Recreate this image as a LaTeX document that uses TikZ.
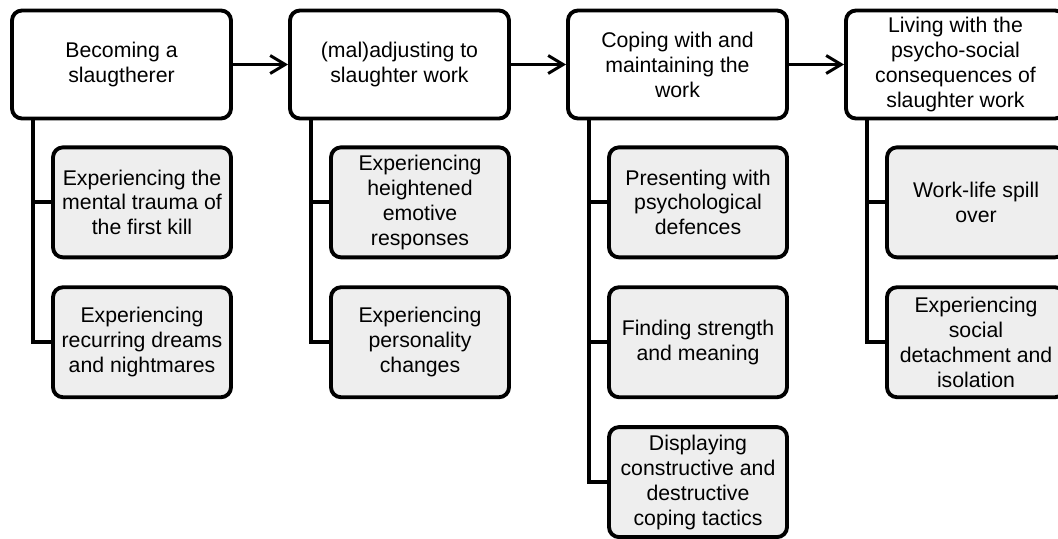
\documentclass[tikz,border=0pt]{standalone}
\usepackage{fontspec}
\setmainfont{Liberation Sans}
\usetikzlibrary{positioning}
\usetikzlibrary{arrows.meta}
\definecolor{subfill}{HTML}{EEEEEE}
\tikzset{
  stagebox/.style={draw=black,line width=2.2pt,rounded corners=2mm,fill=white,
    minimum width=4.38cm,minimum height=2.16cm,inner sep=2pt,align=center,
    font=\fontsize{12.1}{14.2}\selectfont},
  themebox/.style={stagebox,fill=subfill,minimum width=3.56cm,minimum height=2.2cm},
  flow/.style={line width=1.7pt,-{Straight Barb[length=3mm,width=3.6mm,line width=1.7pt]}},
  branch/.style={line width=2.2pt}
}
\begin{document}
\begin{tikzpicture}
\useasboundingbox (0,0) rectangle (21.16,10.76);
\clip (0,0) rectangle (21.16,10.76);
% main stages
\node[stagebox] (t1) at (2.43,9.47) {Becoming a\\slaugtherer};
\node[stagebox] (t2) at (7.99,9.47) {(mal)adjusting to\\slaughter work};
\node[stagebox] (t3) at (13.55,9.47) {Coping with and\\maintaining the\\work};
\node[stagebox] (t4) at (19.11,9.47) {Living with the\\psycho-social\\consequences of\\slaughter work};
\foreach \a/\b in {t1/t2,t2/t3,t3/t4} {
  \draw[flow] (\a) -- (\b);
}
% sub-themes
\node[themebox,below=0.5cm of t1.south east,anchor=north east] (s11) {Experiencing the\\mental trauma of\\the first kill};
\node[themebox,below=0.52cm of s11] (s12) {Experiencing\\recurring dreams\\and nightmares};
\node[themebox,below=0.5cm of t2.south east,anchor=north east] (s21) {Experiencing\\heightened\\emotive\\responses};
\node[themebox,below=0.52cm of s21] (s22) {Experiencing\\personality\\changes};
\node[themebox,below=0.5cm of t3.south east,anchor=north east] (s31) {Presenting with\\psychological\\defences};
\node[themebox,below=0.52cm of s31] (s32) {Finding strength\\and meaning};
\node[themebox,below=0.52cm of s32] (s33) {Displaying\\constructive and\\destructive\\coping tactics};
\node[themebox,below=0.5cm of t4.south east,anchor=north east] (s41) {Work-life spill\\over};
\node[themebox,below=0.52cm of s41] (s42) {Experiencing\\social\\detachment and\\isolation};
% connectors
\foreach \i in {1,...,4} {
  \coordinate (v\i) at ([xshift=0.46cm]t\i.south west);
}
\draw[branch] (v1) |- (s12.west);
\draw[branch] (s11.west) -- (s11.west -| v1);
\draw[branch] (v2) |- (s22.west);
\draw[branch] (s21.west) -- (s21.west -| v2);
\draw[branch] (v3) |- (s33.west);
\draw[branch] (s31.west) -- (s31.west -| v3);
\draw[branch] (s32.west) -- (s32.west -| v3);
\draw[branch] (v4) |- (s42.west);
\draw[branch] (s41.west) -- (s41.west -| v4);
\end{tikzpicture}
\end{document}
